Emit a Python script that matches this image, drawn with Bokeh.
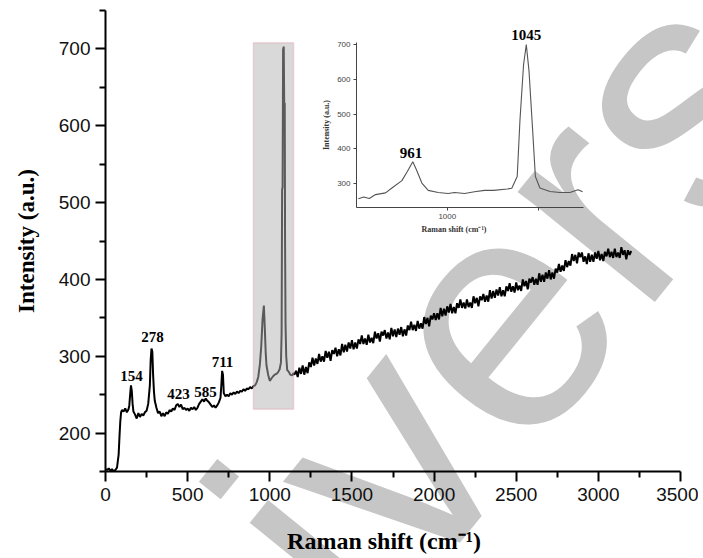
import math
from bokeh.plotting import figure
from bokeh.models import Range1d, FixedTicker, BoxAnnotation, ColumnDataSource, Div
from bokeh.layouts import column
from bokeh.embed import file_html
from bokeh.resources import INLINE
from bokeh.core.properties import value

# ---------------- data ----------------
shift_low = [0, 10, 20, 30, 40, 50, 60, 70, 80, 85, 90, 95, 100, 110, 120, 130, 140, 145, 150, 155,
             160, 165, 170, 180, 190, 200, 210, 220, 230, 240, 250, 260, 270, 275, 280, 285, 290, 295,
             300, 310, 320, 330, 340, 350, 360, 370, 380, 390, 400, 410, 420, 430, 440, 450, 460, 470,
             480, 490, 500, 510, 520, 530, 540, 550, 560, 570, 580, 590, 600, 610, 620, 630, 640, 650,
             660, 670, 680, 690, 700, 705, 710, 715, 720, 730, 740, 750, 760, 770, 780, 790, 800, 810,
             820, 830, 840, 850, 860, 870, 880, 890, 900]
int_low = [153, 152, 154, 151, 153, 150, 152, 155, 172, 195, 215, 227, 230, 228, 232, 227, 231, 236, 250, 262,
           255, 238, 228, 224, 219, 226, 221, 225, 223, 227, 229, 238, 262, 295, 310, 306, 275, 254,
           242, 233, 226, 228, 222, 226, 222, 227, 225, 230, 228, 232, 230, 236, 238, 234, 237, 231,
           233, 230, 232, 229, 233, 231, 234, 230, 233, 238, 241, 244, 241, 245, 242, 240, 237, 234,
           236, 233, 236, 240, 246, 262, 281, 276, 252, 248, 250, 248, 252, 250, 253, 251, 254, 252,
           255, 254, 257, 255, 258, 257, 260, 258, 261]

shift_box = [910, 920, 930, 940, 948, 956, 964, 970, 975, 980, 990, 1000, 1010, 1020, 1030, 1040, 1050,
             1060, 1068, 1072, 1075, 1078, 1081, 1085, 1088, 1091, 1093, 1096, 1100, 1106, 1115, 1125,
             1135, 1145]
int_box = [262, 266, 273, 290, 313, 348, 366, 335, 305, 288, 276, 268, 271, 274, 276, 277, 279,
           283, 292, 330, 517, 520, 699, 703, 625, 630, 450, 340, 300, 282, 280, 276,
           275, 278]

shift_high = list(range(1150, 3201, 10))
int_high = [276, 281, 273, 285, 277, 288, 276, 286, 278, 292, 286, 298, 288, 297, 290, 303, 293, 300, 293, 307,
            298, 306, 294, 308, 303, 311, 300, 309, 301, 316, 305, 315, 306, 318, 310, 321, 309, 318, 310, 322,
            316, 327, 316, 323, 315, 328, 318, 324, 317, 332, 323, 330, 319, 332, 327, 334, 323, 331, 322, 337,
            326, 335, 325, 336, 328, 338, 326, 335, 327, 340, 334, 345, 334, 341, 333, 346, 336, 343, 336, 351,
            342, 350, 339, 353, 348, 356, 347, 356, 348, 363, 352, 362, 353, 365, 357, 368, 356, 364, 356, 369,
            363, 374, 363, 370, 362, 374, 364, 370, 363, 378, 369, 376, 365, 378, 373, 381, 371, 379, 371, 386,
            375, 385, 376, 387, 379, 390, 378, 386, 378, 391, 385, 395, 384, 391, 383, 396, 386, 392, 385, 400,
            391, 398, 387, 401, 396, 403, 393, 401, 393, 408, 397, 406, 397, 409, 401, 412, 400, 409, 401, 414,
            409, 420, 410, 418, 411, 425, 416, 424, 418, 433, 424, 432, 421, 435, 429, 435, 423, 430, 420, 434,
            423, 432, 423, 435, 427, 437, 425, 433, 424, 436, 430, 440, 429, 436, 428, 440, 429, 435, 428, 442,
            432, 438, 426, 438, 432, 437]

raman_shift = shift_low + shift_box + shift_high
intensity = int_low + int_box + int_high

peak_pos = [158, 286, 444, 609, 712]
peak_y = [274, 325, 251, 253, 292]
peak_text = ["154", "278", "423", "585", "711"]

x_ticks = [0, 500, 1000, 1500, 2000, 2500, 3000, 3500]
x_minor = [250, 750, 1250, 1750, 2250, 2750, 3250]
y_ticks = [200, 300, 400, 500, 600, 700]
y_minor = [150, 250, 350, 450, 550, 650, 750]

# zoomed region (inset)
inset_shift = [902, 908, 914, 921, 932, 939, 950, 956, 962, 966, 972, 979, 990, 1001, 1008, 1019, 1030,
               1041, 1051, 1066, 1071, 1077, 1080, 1084, 1087, 1090, 1094, 1097, 1102, 1113, 1124, 1135,
               1144, 1149]
inset_int = [257, 262, 258, 269, 274, 288, 309, 335, 363, 340, 302, 281, 275, 272, 275, 272, 277,
             281, 281, 285, 287, 321, 481, 642, 699, 623, 453, 321, 288, 278, 275, 275,
             283, 277]
inset_x_ticks = [1000, 1100]
inset_y_ticks = [300, 400, 500, 600, 700]
inset_peak_pos = [960]
inset_peak_y = [387]
inset_peak_text = ["961"]
# label of the tall inset peak, placed in the main plot's coordinates (above the inset frame)
top_peak_pos = [2561]
top_peak_y = [718]
top_peak_text = ["1045"]

SERIF = "Liberation Serif"
SANS = "Liberation Sans"
NB = "\u00a0"

# ---------------- watermark (behind the transparent plot) ----------------
wm = Div(text='<span style="position:absolute;left:149px;top:469px;font-family:\'Liberation Sans\';'
              'font-size:333px;line-height:1;color:#c6c6c6;white-space:nowrap;'
              'transform:rotate(-51deg);transform-origin:0 0;">ivers</span>',
         width=698, height=556,
         styles={"position": "absolute", "left": "0px", "top": "0px", "overflow": "hidden"})

# ---------------- main figure ----------------
p = figure(width=698, height=556, x_range=Range1d(0, 3500), y_range=Range1d(150, 750),
           output_backend="svg", toolbar_location=None,
           min_border_left=105, min_border_right=18, min_border_top=10, min_border_bottom=84)
p.outline_line_color = None
p.xgrid.visible = False
p.ygrid.visible = False
p.background_fill_alpha = 0
p.border_fill_alpha = 0

for ax in (p.xaxis[0], p.yaxis[0]):
    ax.axis_line_width = 2
    ax.axis_line_color = "black"
    ax.major_tick_line_width = 2
    ax.minor_tick_line_width = 2
    ax.major_tick_out = 10
    ax.major_tick_in = 0
    ax.minor_tick_out = 6
    ax.minor_tick_in = 0
    ax.major_label_text_font = SANS
    ax.major_label_text_font_size = "19px"
    ax.major_label_text_color = "#111111"
    ax.axis_label_text_font = SERIF
    ax.axis_label_text_font_style = "bold"
    ax.axis_label_text_color = "black"
p.xaxis[0].ticker = FixedTicker(ticks=x_ticks, minor_ticks=x_minor)
p.yaxis[0].ticker = FixedTicker(ticks=y_ticks, minor_ticks=y_minor)
p.xaxis[0].major_label_standoff = 6
p.yaxis[0].major_label_standoff = 5
p.yaxis[0].axis_label = "Intensity (a.u.)"
p.yaxis[0].axis_label_text_font_size = "23px"
p.yaxis[0].axis_label_standoff = 17
p.xaxis[0].axis_label = "Raman shift (cm\u207b\u00b9)" + NB * 3
p.xaxis[0].axis_label_text_font_size = "24px"
p.xaxis[0].axis_label_standoff = 24

p.line(raman_shift, intensity, line_color="black", line_width=2)

psrc = ColumnDataSource(dict(x=peak_pos, y=peak_y, t=peak_text))
p.text(x="x", y="y", text="t", source=psrc, text_font=value(SERIF), text_font_style="bold",
       text_font_size="15px", text_align="center", text_baseline="middle", text_color="black")
tsrc = ColumnDataSource(dict(x=top_peak_pos, y=top_peak_y, t=top_peak_text))
p.text(x="x", y="y", text="t", source=tsrc, text_font=value(SERIF), text_font_style="bold",
       text_font_size="15px", text_align="center", text_baseline="middle", text_color="black")

p.add_layout(BoxAnnotation(left=900, right=1145, bottom=231, top=708, fill_color="#b4b4b4",
                           fill_alpha=0.5, line_color="#e58f9a", line_width=1.5))

# ---------------- inset figure ----------------
ins = figure(width=350, height=199, x_range=Range1d(900, 1150), y_range=Range1d(232, 705),
             output_backend="svg", toolbar_location=None,
             min_border_left=105, min_border_right=18, min_border_top=5, min_border_bottom=28)
ins.outline_line_color = None
ins.xgrid.visible = False
ins.ygrid.visible = False
ins.background_fill_alpha = 0
ins.border_fill_alpha = 0
for ax in (ins.xaxis[0], ins.yaxis[0]):
    ax.axis_line_width = 1
    ax.axis_line_color = "#444444"
    ax.major_tick_line_color = "#444444"
    ax.major_tick_out = 3
    ax.major_tick_in = 0
    ax.minor_tick_line_color = None
    ax.major_label_text_font = SANS
    ax.major_label_text_font_size = "8px"
    ax.major_label_text_color = "#444444"
    ax.major_label_standoff = 3
    ax.axis_label_text_font = SERIF
    ax.axis_label_text_font_style = "bold"
    ax.axis_label_text_font_size = "8px"
    ax.axis_label_text_color = "#333333"
    ax.axis_label_standoff = 3
ins.xaxis[0].ticker = FixedTicker(ticks=inset_x_ticks)
ins.xaxis[0].major_label_overrides = {1100: ""}
ins.yaxis[0].ticker = FixedTicker(ticks=inset_y_ticks)
ins.xaxis[0].axis_label = "Raman shift (cm\u207b\u00b9)" + NB * 16
ins.yaxis[0].axis_label = "Intensity (a.u.)"

ins.line(inset_shift, inset_int, line_color="#555555", line_width=1.1)
isrc = ColumnDataSource(dict(x=inset_peak_pos, y=inset_peak_y, t=inset_peak_text))
ins.text(x="x", y="y", text="t", source=isrc, text_font=value(SERIF), text_font_style="bold",
         text_font_size="15px", text_align="center", text_baseline="middle", text_color="black")
ins.styles = {"position": "absolute", "left": "251px", "top": "37px"}

layout = column(wm, p, ins)
open("out.html", "w").write(file_html(layout, INLINE))
